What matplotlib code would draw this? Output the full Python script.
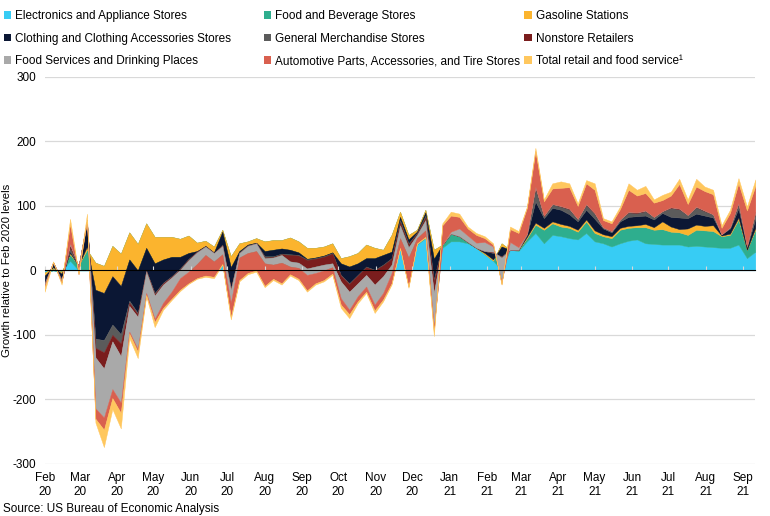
import pandas as pd
import numpy as np
import matplotlib
matplotlib.use('Agg')
import matplotlib.pyplot as plt
import matplotlib.dates as mdates
from matplotlib.patches import Patch
from matplotlib.ticker import NullFormatter

plt.rcParams['font.family'] = ['Liberation Sans', 'DejaVu Sans']
plt.rcParams['axes.unicode_minus'] = False

# weekly readings, growth relative to Feb 2020 levels
weeks = pd.date_range('2020-02-01', periods=85, freq='7D')

electronics = [-3, 0, -2, 15, 0, 0, 0, 0, 0, 0,
               0, 0, 0, 0, 0, 0, 0, 0, 0, 0,
               0, 8, 0, 0, 0, 0, 0, 0, 0, 0,
               0, 0, 0, 0, 0, 0, 0, 0, 0, 0,
               0, 0, 33, 10, 40, 50, 5, 35, 45, 45,
               42, 35, 25, 15, 0, 32, 30, 45, 58, 42,
               55, 53, 50, 48, 58, 45, 42, 37, 42, 46,
               48, 42, 41, 40, 40, 40, 37, 38, 37, 36,
               35, 35, 40, 19, 29]
food_bev = [0, 3, 0, 10, 8, 32, 12, 7, 38, 26,
            59, 41, 73, 52, 52, 52, 49, 54, 43, 46,
            37, 55, 22, 42, 45, 50, 45, 47, 47, 51,
            45, 35, 35, 37, 42, 19, 22, 27, 40, 35,
            32, 55, 58, 45, 23, 44, 27, 5, 12, 8,
            2, 0, 0, 0, 42, 0, 2, 5, 13, 21,
            18, 15, 16, 12, 18, 13, 11, 13, 21, 20,
            19, 25, 22, 24, 20, 19, 18, 25, 25, 25,
            18, 20, 39, 13, 34]
gasoline = [-5, 2, -3, 2, 0, 5, -42, -42, -47, -50,
            -42, -41, -38, -41, -35, -31, -28, -27, -13, -8,
            -9, -3, -17, -12, -5, -7, -15, -15, -13, -19,
            -17, -17, -15, -14, -14, -8, -16, -16, -21, -16,
            -8, -26, -8, -7, -3, -4, -14, 0, 0, 0,
            0, 0, 2, 2, -5, 0, 0, 2, 3, 3,
            3, 4, 3, 3, 3, 4, 3, 3, 3, 3,
            3, 5, 4, 12, 8, 5, 10, 8, 7, 9,
            1, 2, 3, 0, 3]
clothing = [-10, 5, -8, 3, -2, 37, -76, -73, -75, -75,
            -64, -66, -35, -46, -36, -30, -18, -9, -1, -1,
            -1, -20, -33, -2, -1, -1, -8, -10, -8, -7,
            -4, -1, -1, -1, -1, -18, -26, -18, -13, -18,
            -15, -10, -5, -6, -2, -5, -32, 0, 0, 0,
            0, 0, 3, 10, -15, 0, 0, 3, 33, 15,
            21, 22, 18, 13, 15, 18, 9, 6, 10, 14,
            14, 13, 12, 13, 15, 18, 16, 17, 16, 12,
            2, 8, 14, 4, 14]
general_merch = [-2, 2, -2, 5, 0, 2, -14, -19, -16, -14,
                 -3, -2, -1, -2, -1, -1, -1, -1, 0, 0,
                 0, -1, -1, -1, -1, 0, -2, -1, -1, -1,
                 -1, -1, -1, -1, -1, -1, -1, -1, -1, -1,
                 -1, -1, -3, -2, -1, -3, -4, 0, 0, 0,
                 0, 0, 0, 1, -1, 0, 0, 2, 21, 3,
                 6, 5, 8, 4, 8, 8, 2, 2, 3, 7,
                 5, 7, 4, 3, 14, 13, 5, 10, 7, 5,
                 0, 2, 8, 2, 10]
nonstore = [0, 1, 0, 5, 0, 2, -15, -25, -10, -20,
            -5, -4, -1, -2, -2, -1, -1, -1, -1, 0,
            0, -1, -1, 0, 0, 0, -1, -1, -1, -10,
            -11, -13, -12, -12, -15, -9, -12, -12, -12, -22,
            -17, -9, -5, -4, -2, -4, -17, 0, 0, 0,
            0, 0, 0, 1, -1, 0, 0, 0, 2, 1,
            0, 1, 1, 0, 1, 1, 0, 0, 0, 1,
            1, 1, 0, 0, 1, 1, 0, 1, 1, 0,
            0, 0, 1, 0, 1]
food_services = [-3, 0, -3, 2, 0, 0, -79, -76, -74, -72,
                 -40, -50, -33, -36, -28, -22, -13, -18, -18, -13,
                 -13, -13, -20, -7, -11, -12, -8, -11, -12, -8,
                 -8, -10, -10, -9, -6, -26, -28, -20, -18, -31,
                 -26, -13, -20, -16, -5, -16, -53, 0, 3, 12,
                 10, 8, 14, 8, -38, 12, 4, 0, 0, 0,
                 0, 0, 0, 0, 0, 0, 0, 0, 0, 0,
                 0, 0, 0, 0, 0, 0, 0, 0, 0, 0,
                 0, 0, 0, 0, 0]
auto_parts = [-2, 0, -1, 30, -12, 0, -16, -19, -14, -16,
              -3, -4, -3, -5, -8, -11, -18, -18, -22, -32,
              -24, -15, -22, -35, -31, -30, -35, -22, -32, -12,
              -17, -24, -16, -15, -10, -10, -7, -8, -8, -9,
              -10, -16, -15, -45, -8, -10, -7, 30, 25, 18,
              11, 12, 6, 3, -3, 20, 22, 40, 55, 22,
              24, 28, 33, 20, 32, 36, 11, 12, 16, 34,
              26, 27, 22, 17, 18, 38, 17, 31, 30, 31,
              10, 22, 30, 55, 40]
total = [-8, 1, -3, 8, 2, 10, -6, -27, -17, -24,
         -7, -10, -2, -8, -3, -2, -2, -1, -1, -2,
         -2, -1, -4, -2, -2, -2, -2, -2, -2, -2,
         -2, -2, -2, -2, -2, -5, -6, -3, -2, -4,
         -3, -2, -1, -2, -1, -1, -7, 3, 6, 5,
         3, 3, 3, 2, -1, 4, 3, 2, 5, 3,
         8, 10, 6, 4, 5, 10, 3, 3, 4, 10,
         9, 11, 5, 8, 6, 8, 7, 12, 7, 7,
         4, 5, 8, 6, 10]

labels = ['Electronics and Appliance Stores', 'Food and Beverage Stores', 'Gasoline Stations',
          'Clothing and Clothing Accessories Stores', 'General Merchandise Stores', 'Nonstore Retailers',
          'Food Services and Drinking Places', 'Automotive Parts, Accessories, and Tire Stores',
          'Total retail and food service\u00b9']
colors = ['#37CCF4', '#2EAE8E', '#FBB42E', '#0B1734', '#5B5B5B', '#7A1D1D',
          '#A9A9A9', '#D9604F', '#FFC75E']

fig = plt.figure(figsize=(7.7, 5.16), dpi=100)
ax = fig.add_axes([0.058, 0.101, 0.923, 0.750])

series = [electronics, food_bev, gasoline, clothing, general_merch, nonstore,
          food_services, auto_parts, total]
ax.stackplot(weeks, *series, colors=colors, linewidth=0.3, edgecolor='face')

ax.set_ylim(-300, 300)
ax.set_xlim(weeks[0], weeks[-1])
ax.set_yticks(np.arange(-300, 301, 100))
ax.yaxis.grid(True, color='#d9d9d9', linewidth=0.9)
ax.set_axisbelow(True)
for s in ax.spines.values():
    s.set_visible(False)
ax.tick_params(axis='y', length=0, labelsize=8.5, pad=6)
ax.tick_params(axis='x', length=0, labelsize=8.5, pad=6)
ax.xaxis.set_major_locator(mdates.MonthLocator())
ax.xaxis.set_major_formatter(mdates.DateFormatter('%b\n%y'))
ax.set_ylabel('Growth relative to Feb 2020 levels', fontsize=8.2)
ax.yaxis.set_label_coords(-0.046, 0.5)

# horizontal axis line through zero with small ticks
zero_ax = ax.secondary_xaxis(0.5)
zero_ax.spines['bottom'].set_color('#d9d9d9')
zero_ax.spines['bottom'].set_linewidth(0.9)
zero_ax.xaxis.set_major_locator(mdates.MonthLocator())
zero_ax.xaxis.set_major_formatter(NullFormatter())
zero_ax.tick_params(axis='x', length=3, color='#d9d9d9')
zero_ax.set_zorder(5)

# legend: three columns placed like the original
handles = [Patch(facecolor=c, edgecolor='none') for c in colors]
col_x = [0.002, 0.340, 0.678]
for k in range(3):
    idx = [k, k + 3, k + 6]
    fig.legend([handles[j] for j in idx], [labels[j] for j in idx],
               loc='upper left', bbox_to_anchor=(col_x[k], 0.985), ncol=1,
               frameon=False, fontsize=8.5, handlelength=0.6, handleheight=0.6,
               handletextpad=0.35, labelspacing=0.9, borderaxespad=0, borderpad=0.2)

fig.text(0.004, 0.008, 'Source: US Bureau of Economic Analysis', fontsize=8.5)

fig.savefig('out.png', dpi=100)
